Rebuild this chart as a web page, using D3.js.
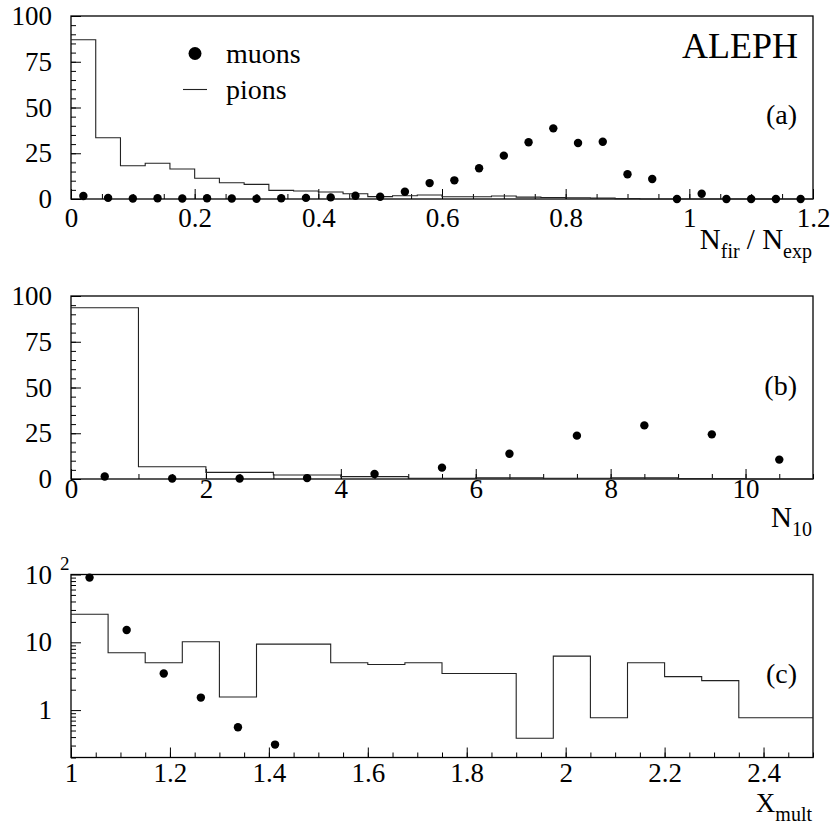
<!DOCTYPE html>
<html>
<head>
<meta charset="utf-8">
<script src="https://cdn.jsdelivr.net/npm/d3@7"></script>
<style>
  body { margin: 0; background: #fff; }
  text { font-family: "Liberation Serif", "Times New Roman", Times, "Nimbus Roman", "DejaVu Serif", serif; fill: #000; }
</style>
</head>
<body>
<svg id="chart" width="837" height="833"></svg>
<script>
// ---- data ----
// (a) N_fir / N_exp, bins of 0.04 from 0 to 1.2
const fracPions = [87, 33.5, 18.2, 19.5, 16.4, 11.3, 8.9, 8.0, 4.7, 4.4,
  3.8, 2.9, 1.3, 1.8, 2.2, 1.2, 1.2, 1.6, 1.0, 0.8,
  0.7, 0.5, 0.2, 0, 0, 0, 0, 0, 0, 0];
const fracMuons = [1.6, 0.6, 0.3, 0.4, 0.3, 0.4, 0.3, 0.1, 0.4, 0.6,
  0.9, 1.8, 1.2, 4.0, 8.7, 10.2, 16.8, 23.7, 31.0, 38.6,
  30.6, 31.3, 13.5, 10.9, 0, 2.9, 0, 0, 0, 0];
// (b) N_10, unit bins from 0 to 11
const n10Pions = [93.6, 6.7, 3.6, 2.2, 1.3, 0.4, 0.6, 0.4, 0.6, 0.2, 0];
const n10Muons = [1.4, 0.3, 0.3, 0.5, 2.7, 6.2, 13.8, 23.7, 29.3, 24.4, 10.6];
// (c) X_mult, bins of 0.075 from 1 to 2.5 (log y)
const xmPions = [25.9, 7.0, 5.0, 10.2, 1.56, 9.4, 9.4, 5.0, 4.7, 5.0,
  3.46, 3.46, 0.385, 6.25, 0.77, 5.0, 3.12, 2.72, 0.77, 0.77];
const xmMuons = [90, 15.2, 3.46, 1.53, 0.56, 0.31];

const fracTicks = [0, 0.2, 0.4, 0.6, 0.8, 1, 1.2];
const n10Ticks = [0, 2, 4, 6, 8, 10];
const xmTicks = [1, 1.2, 1.4, 1.6, 1.8, 2, 2.2, 2.4];
const linTicks = [0, 25, 50, 75, 100];
const logTicks = [1, 10, 100];

const FONT = '"Liberation Serif", "Times New Roman", Times, "Nimbus Roman", "DejaVu Serif", serif';
const svg = d3.select("#chart");
const left = 71, right = 813;

function edges(lo, w, n) {
  return d3.range(n + 1).map(i => lo + i * w);
}

function panel(o) {
  const x = d3.scaleLinear().domain(o.xdom).range([left, right]);
  const y = o.log
    ? d3.scaleLog().domain(o.ydom).range([o.bottom, o.top])
    : d3.scaleLinear().domain(o.ydom).range([o.bottom, o.top]);
  const g = svg.append("g");

  // minor + major ticks, pointing inside
  const xMinor = g.append("g").attr("transform", `translate(0,${o.bottom})`)
    .call(d3.axisBottom(x).tickValues(o.xminor).tickSize(-5).tickFormat(""));
  const xMajor = g.append("g").attr("transform", `translate(0,${o.bottom})`)
    .call(d3.axisBottom(x).tickValues(o.xticks).tickSizeInner(-10).tickSizeOuter(0)
      .tickPadding(o.xpad).tickFormat(d3.format("")));
  const yMinor = g.append("g").attr("transform", `translate(${left},0)`)
    .call(d3.axisLeft(y).tickValues(o.yminor).tickSize(-5).tickFormat(""));
  const yMajor = g.append("g").attr("transform", `translate(${left},0)`)
    .call(d3.axisLeft(y).tickValues(o.yticks).tickSizeInner(-10).tickSizeOuter(0)
      .tickPadding(19).tickFormat(o.yfmt || d3.format("")));
  [xMinor, xMajor, yMinor, yMajor].forEach(a => {
    a.attr("font-family", null).attr("font-size", null);
    a.select(".domain").remove();
    a.selectAll("line").attr("stroke", "#000").attr("stroke-width", 1);
    a.selectAll("text").style("font-size", "27px")
      .style("font-family", FONT).attr("fill", "#000");
  });

  // frame
  g.append("rect").attr("x", left).attr("y", o.top)
    .attr("width", right - left).attr("height", o.bottom - o.top)
    .attr("fill", "none").attr("stroke", "#000").attr("stroke-width", 1.3);

  // pions histogram
  const e = o.edges;
  const pts = [];
  o.pions.forEach((v, i) => { pts.push([x(e[i]), y(v)]); pts.push([x(e[i + 1]), y(v)]); });
  g.append("path").attr("d", d3.line()(pts))
    .attr("fill", "none").attr("stroke", "#222").attr("stroke-width", 1.1);

  // muons points
  g.selectAll("circle.mu").data(o.muons).enter().append("circle")
    .attr("class", "mu")
    .attr("cx", (d, i) => x((e[i] + e[i + 1]) / 2))
    .attr("cy", d => y(d))
    .attr("r", 4.2).attr("fill", "#000");

  // panel label
  g.append("text").attr("x", 797).attr("y", o.labelY).attr("text-anchor", "end")
    .style("font-size", "28px").text(o.label);

  // axis title
  const t = g.append("text").attr("x", 812).attr("y", o.titleY).attr("text-anchor", "end")
    .style("font-size", o.titleSize + "px");
  o.title.forEach(([s, sub]) => {
    t.append("tspan").attr("dy", sub ? 9 : (t.selectAll("tspan").size() ? -9 : 0))
      .style("font-size", sub ? "20px" : o.titleSize + "px").text(s);
  });
  return { g, x, y };
}

// (a)
const pa = panel({
  top: 16, bottom: 199, xdom: [0, 1.2], ydom: [0, 100],
  xticks: fracTicks, xminor: d3.range(25).map(i => i * 0.05),
  yticks: linTicks, yminor: d3.range(21).map(i => i * 5),
  xpad: 9, edges: edges(0, 0.04, 30), pions: fracPions, muons: fracMuons,
  label: "(a)", labelY: 124, titleY: 258, titleSize: 29,
  title: [["N", false], ["fir", true], [" / N", false], ["exp", true]]
});
pa.g.append("text").attr("x", 798).attr("y", 58).attr("text-anchor", "end")
  .style("font-size", "36px").text("ALEPH");
// legend
pa.g.append("circle").attr("cx", 195).attr("cy", 53.5).attr("r", 6.5).attr("fill", "#000");
pa.g.append("text").attr("x", 226).attr("y", 63).style("font-size", "28px").text("muons");
pa.g.append("line").attr("x1", 183).attr("x2", 207).attr("y1", 89.5).attr("y2", 89.5)
  .attr("stroke", "#222").attr("stroke-width", 1.1);
pa.g.append("text").attr("x", 226).attr("y", 99).style("font-size", "28px").text("pions");

// (b)
panel({
  top: 296, bottom: 479, xdom: [0, 11], ydom: [0, 100],
  xticks: n10Ticks, xminor: d3.range(23).map(i => i * 0.5),
  yticks: linTicks, yminor: d3.range(21).map(i => i * 5),
  xpad: 0, edges: edges(0, 1, 11), pions: n10Pions, muons: n10Muons,
  label: "(b)", labelY: 395, titleY: 536, titleSize: 29,
  title: [["N", false], ["10", true]]
});

// (c)
const logMinor = [];
[0.1, 1, 10].forEach(dec => d3.range(2, 10).forEach(k => {
  const v = dec * k;
  if (v >= 0.2 && v < 100) logMinor.push(v);
}));
const pc = panel({
  top: 574.5, bottom: 757.5, xdom: [1, 2.5], ydom: [0.2, 100], log: true,
  xticks: xmTicks, xminor: d3.range(31).map(i => 1 + i * 0.05),
  yticks: logTicks, yminor: logMinor,
  yfmt: d => (d === 100 ? "10" : String(d)),
  xpad: 5, edges: edges(1, 0.075, 20), pions: xmPions, muons: xmMuons,
  label: "(c)", labelY: 683, titleY: 821, titleSize: 27,
  title: [["X", false], ["mult", true]]
});
pc.g.append("text").attr("x", 60).attr("y", 570).style("font-size", "19px").text("2");
</script>
</body>
</html>
